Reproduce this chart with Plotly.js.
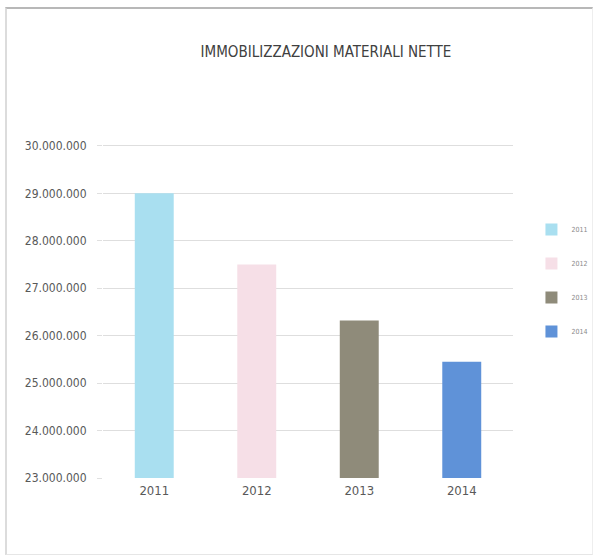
<!DOCTYPE html>
<html>
<head>
<meta charset="utf-8">
<script src="https://cdn.plot.ly/plotly-3.0.1.min.js"></script>
<style>
  html, body { margin: 0; padding: 0; background: #fff; }
  #wrap { position: absolute; left: 0; top: 0; width: 598px; height: 558px; }
  #frame { position: absolute; left: 5px; top: 7px; width: 588px; height: 548px;
           border-top: 2px solid #b8b8b8; border-left: 2px solid #dcdcdc;
           border-right: 1px solid #eeeeee; border-bottom: 1px solid #e6e6e6; box-sizing: border-box; pointer-events: none; }
  #chart { position: absolute; left: 0; top: 0; width: 598px; height: 558px; }
</style>
</head>
<body>
<div id="wrap">
  <div id="chart"></div>
  <div id="frame"></div>
</div>
<script>
const years = ['2011', '2012', '2013', '2014'];
const values = [29000000, 27500000, 26320000, 25450000];
const colors = ['#a9dff0', '#f6dfe7', '#8f8b7a', '#5f92d8'];
const titleText = 'IMMOBILIZZAZIONI MATERIALI NETTE';
const yTicks = [23000000, 24000000, 25000000, 26000000, 27000000, 28000000, 29000000, 30000000];

const FONT = '"DejaVu Sans Condensed", "DejaVu Sans", sans-serif';

const traces = years.map((y, i) => ({
  type: 'bar',
  name: y,
  legendgroup: y,
  x: [y],
  y: [values[i]],
  marker: { color: colors[i], line: { width: 0 } },
  hoverinfo: 'x+y'
}));

const layout = {
  width: 598,
  height: 558,
  margin: { l: 103, r: 85, t: 143, b: 80, autoexpand: false },
  paper_bgcolor: '#ffffff',
  plot_bgcolor: '#ffffff',
  separators: ',.',
  barmode: 'overlay',
  bargap: 0.62,
  font: { family: FONT, color: '#595959', size: 12 },
  title: {
    text: titleText,
    font: { family: FONT, size: 15, color: '#404040' },
    x: 0.545, xanchor: 'center',
    y: 0.907, yanchor: 'middle'
  },
  xaxis: {
    type: 'category',
    categoryorder: 'array',
    categoryarray: years,
    showgrid: false,
    zeroline: false,
    showline: false,
    ticks: '',
    tickfont: { family: FONT, size: 13, color: '#595959' },
    ticklabelstandoff: 3
  },
  yaxis: {
    range: [23000000, 30060000],
    tickmode: 'array',
    tickvals: yTicks,
    tickformat: ',d',
    showgrid: true,
    gridcolor: '#dedede',
    gridwidth: 1,
    zeroline: false,
    showline: false,
    ticks: 'outside',
    ticklen: 5,
    tickcolor: '#e0e0e0',
    tickfont: { family: FONT, size: 12, color: '#595959' },
    ticklabelstandoff: 8
  },
  legend: {
    x: 1.045, xanchor: 'left',
    y: 0.785, yanchor: 'top',
    font: { family: FONT, size: 7, color: '#8a8a8a' },
    itemwidth: 30,
    tracegroupgap: 15,
    traceorder: 'grouped',
    bgcolor: 'rgba(0,0,0,0)'
  },
  showlegend: true
};

Plotly.newPlot('chart', traces, layout, { displayModeBar: false, staticPlot: true });
</script>
</body>
</html>
